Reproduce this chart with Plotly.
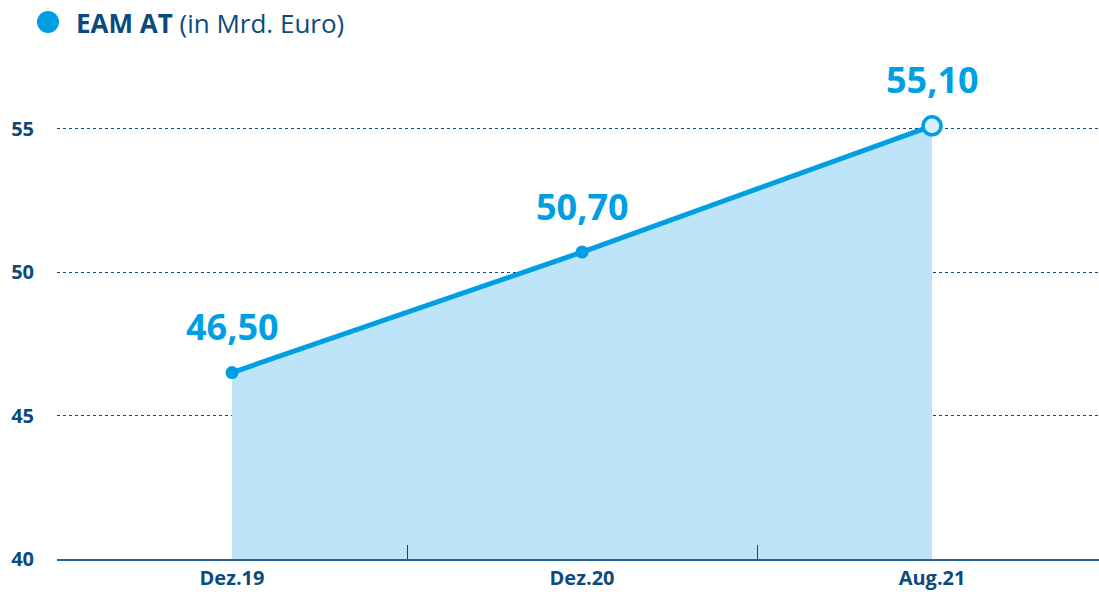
import plotly.graph_objects as go

categories = ["Dez.19", "Dez.20", "Aug.21"]
values = [46.50, 50.70, 55.10]
value_labels = ["46,50", "50,70", "55,10"]
y_ticks = [40, 45, 50, 55]
legend_bold = "EAM AT"
legend_rest = " (in Mrd. Euro)"

DARK = "#0b4a7d"
BLUE = "#009fe3"
LIGHT = "#bde4f8"
FONT = "Open Sans"

W, H = 1099, 595
ml, mr, mt, mb = 57, 0, 57, 36

fig = go.Figure()
fig.add_trace(go.Scatter(
    x=categories, y=values, mode="lines",
    line=dict(color=BLUE, width=5), fill="tozeroy", fillcolor=LIGHT,
    hoverinfo="skip", showlegend=False,
))
fig.add_trace(go.Scatter(
    x=categories[:-1], y=values[:-1], mode="markers",
    marker=dict(color=BLUE, size=13), showlegend=False,
))
fig.add_trace(go.Scatter(
    x=categories[-1:], y=values[-1:], mode="markers",
    marker=dict(color="#d6effb", size=18, line=dict(color=BLUE, width=3.5)),
    showlegend=False,
))

for c, v, t in zip(categories, values, value_labels):
    fig.add_annotation(x=c, y=v, text=f"<b>{t}</b>", showarrow=False,
                       yshift=46, font=dict(family=FONT, size=36, color=BLUE))

fig.add_annotation(xref="paper", yref="paper", x=(74 - ml) / (W - ml - mr), y=1,
                   yshift=57 - 23, xanchor="left", yanchor="middle",
                   text=f"<b>{legend_bold}</b>{legend_rest}", showarrow=False,
                   font=dict(family=FONT, size=26, color=DARK))
fig.add_shape(type="circle", xref="paper", yref="paper",
              xsizemode="pixel", ysizemode="pixel",
              xanchor=(48 - ml) / (W - ml - mr), yanchor=1 + (57 - 22) / (H - mt - mb),
              x0=-11, x1=11, y0=-11, y1=11,
              fillcolor=BLUE, line=dict(width=0))

fig.update_xaxes(
    type="category", range=[-0.5, 2.477], tickson="boundaries",
    ticks="inside", ticklen=14, tickwidth=1, tickcolor=DARK,
    showline=True, linecolor="#2a6399", linewidth=2,
    showgrid=False, zeroline=False,
    tickfont=dict(family=FONT, size=20, color=DARK, weight="bold"),
)
fig.update_yaxes(
    range=[40, 57.5], tickvals=y_ticks, ticktext=[str(t) for t in y_ticks],
    showgrid=True, gridcolor=DARK, griddash="dot", gridwidth=1,
    showline=False, zeroline=False, ticklabelstandoff=22,
    tickfont=dict(family=FONT, size=20, color=DARK, weight="bold"),
)
fig.update_layout(
    width=W, height=H, margin=dict(l=ml, r=mr, t=mt, b=mb),
    plot_bgcolor="white", paper_bgcolor="white",
)
fig.write_html("out.html", config={"displayModeBar": False},
               post_script="document.body.style.margin='0';document.body.style.overflow='hidden';")
